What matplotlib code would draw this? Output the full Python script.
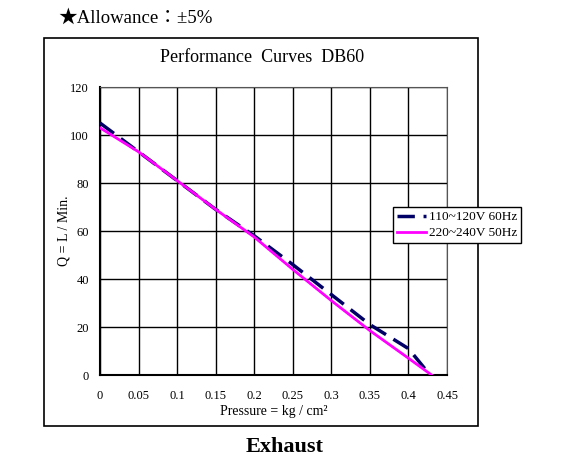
import numpy as np
import matplotlib.pyplot as plt
from matplotlib.patches import Rectangle

# Performance curves DB60
pressure_60 = [0, 0.05, 0.1, 0.15, 0.2, 0.25, 0.3, 0.35, 0.4, 0.428]
flow_60 = [105, 93, 81, 69, 58, 46, 33.5, 21, 11, 0]
pressure_50 = [0, 0.05, 0.1, 0.15, 0.2, 0.25, 0.3, 0.35, 0.4, 0.43]
flow_50 = [103, 93, 81, 69, 57.5, 44, 31, 18.5, 7, 0]
labels = ['110~120V 60Hz', '220~240V 50Hz']
x_ticks = [0, 0.05, 0.1, 0.15, 0.2, 0.25, 0.3, 0.35, 0.4, 0.45]
x_tick_labels = ['0', '0.05', '0.1', '0.15', '0.2', '0.25', '0.3', '0.35', '0.4', '0.45']
y_ticks = [0, 20, 40, 60, 80, 100, 120]

plt.rcParams['font.family'] = ['Liberation Serif', 'Noto Sans CJK JP', 'DejaVu Sans']

fig = plt.figure(figsize=(5.69, 4.62), dpi=100)
ax = fig.add_axes([100/569, 1-375/462, 347/569, 288/462])

# outer frame
fig.patches.append(Rectangle((44/569, 1-426/462), 434/569, 388/462,
                             transform=fig.transFigure, fill=False,
                             edgecolor='black', linewidth=1.2))

ax.plot(pressure_60, flow_60, color='#000066', linewidth=2.5,
        dashes=(5, 2.5), label=labels[0], zorder=3)
ax.plot(pressure_50, flow_50, color='#ff00ff', linewidth=2,
        label=labels[1], zorder=4)

ax.set_xlim(0, 0.45)
ax.set_ylim(0, 120)
ax.set_xticks(x_ticks)
ax.set_xticklabels(x_tick_labels)
ax.set_yticks(y_ticks)
ax.tick_params(axis='x', length=0, labelsize=9, pad=11)
ax.tick_params(axis='y', length=0, labelsize=9, pad=8)
ax.grid(True, color='black', linewidth=1)
for s in ['left', 'bottom']:
    ax.spines[s].set_linewidth(1.5)
for s in ['top', 'right']:
    ax.spines[s].set_color('#555555')

ax.set_xlabel('Pressure = kg / cm²', fontsize=10, labelpad=2)
ax.set_ylabel('Q = L / Min.', fontsize=10, labelpad=0)

handles, names = ax.get_legend_handles_labels()
leg = fig.legend(handles, names, loc='upper left',
                 bbox_to_anchor=(393/569, 1-207/462),
                 fontsize=9.5, frameon=True, fancybox=False, framealpha=1,
                 facecolor='white', edgecolor='black', handlelength=2.2,
                 handletextpad=0.2, borderpad=0.3, labelspacing=0.3,
                 borderaxespad=0)
leg.get_frame().set_linewidth(1)
leg.set_zorder(10)

fig.text(262/569, 1-57/462, 'Performance  Curves  DB60', ha='center',
         va='center', fontsize=13)
fig.text(58/569, 1-18/462, '★Allowance：±5%', ha='left', va='center',
         fontsize=13.5)
fig.text(285/569, 1-447/462, 'Exhaust', ha='center', va='center',
         fontsize=16, fontweight='bold')

fig.savefig('out.png', dpi=100)
